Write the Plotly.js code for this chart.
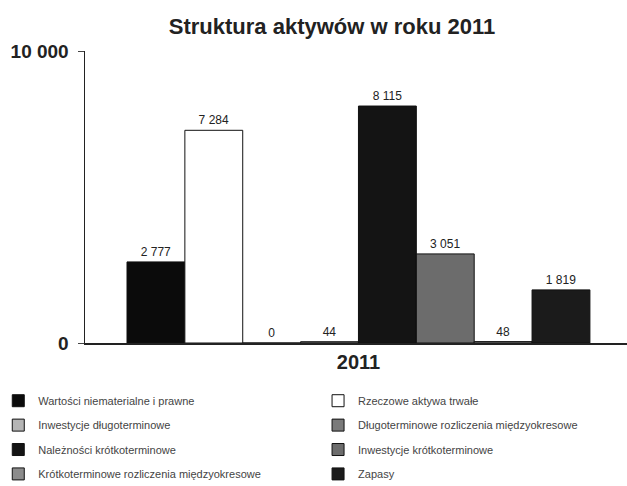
<!DOCTYPE html>
<html>
<head>
<meta charset="utf-8">
<script src="https://cdn.plot.ly/plotly-3.0.1.min.js"></script>
<style>html,body{margin:0;padding:0;background:#fff;}#chart{width:627px;height:486px;}</style>
</head>
<body>
<div id="chart"></div>
<script>
const categories = ['2011'];
const seriesNames = [
  'Wartości niematerialne i prawne',
  'Rzeczowe aktywa trwałe',
  'Inwestycje długoterminowe',
  'Długoterminowe rozliczenia międzyokresowe',
  'Należności krótkoterminowe',
  'Inwestycje krótkoterminowe',
  'Krótkoterminowe rozliczenia międzyokresowe',
  'Zapasy'
];
const seriesValues = [2777, 7284, 0, 44, 8115, 3051, 48, 1819];
const yTickValues = [0, 10000];
const yTickLabels = ['0', '10 000'];

const seriesColors = ['#0b0b0b', '#ffffff', '#b5b5b5', '#7a7a7a', '#141414', '#6c6c6c', '#8c8c8c', '#1b1b1b'];
const FONT = 'Liberation Sans, Arial, sans-serif';

const traces = seriesNames.map((name, i) => ({
  type: 'bar',
  name: name,
  x: categories,
  y: [seriesValues[i]],
  marker: { color: seriesColors[i], line: { color: '#111', width: 1 } },
  texttemplate: '%{y:,.0f}',
  textposition: 'outside',
  cliponaxis: false,
  textfont: { family: FONT, size: 12, color: '#222' },
  legendgroup: 'g' + i,
  legend: i % 2 === 0 ? 'legend' : 'legend2',
  hoverinfo: 'name+y'
}));

const legendCommon = {
  xanchor: 'left', yanchor: 'top',
  y: -0.148,
  tracegroupgap: 5.4,
  bgcolor: 'rgba(0,0,0,0)',
  font: { family: FONT, size: 11, color: '#444' },
  itemclick: false
};

const layout = {
  width: 627, height: 486,
  margin: { l: 85, r: 0, t: 51, b: 143, autoexpand: false },
  paper_bgcolor: '#fff', plot_bgcolor: '#fff',
  separators: ', ',
  barmode: 'group',
  bargap: 0.1536,
  bargroupgap: 0,
  title: {
    text: 'Struktura aktywów w roku 2011',
    font: { family: FONT, size: 22, color: '#222', weight: 'bold' },
    xref: 'container', x: 0.5295, xanchor: 'center',
    yref: 'container', y: 0.9465, yanchor: 'middle'
  },
  xaxis: {
    type: 'category',
    range: [-0.5, 0.491],
    showgrid: false,
    showline: true, linecolor: '#222', linewidth: 2,
    ticks: '',
    tickfont: { family: FONT, size: 20, color: '#222', weight: 'bold' },
    fixedrange: true
  },
  yaxis: {
    range: [0, 10000],
    tickvals: yTickValues,
    ticktext: yTickLabels,
    ticks: 'outside', ticklen: 6, tickcolor: '#444', tickwidth: 1,
    ticklabelstandoff: 5,
    showgrid: true, gridcolor: '#222', gridwidth: 2,
    zeroline: false,
    showline: true, linecolor: '#222', linewidth: 1.5,
    tickfont: { family: FONT, size: 19, color: '#222', weight: 'bold' },
    fixedrange: true
  },
  legend: Object.assign({}, legendCommon, { x: -0.16 }),
  legend2: Object.assign({}, legendCommon, { x: 0.43 }),
  showlegend: true
};

Plotly.newPlot('chart', traces, layout, { displayModeBar: false, staticPlot: true });
</script>
</body>
</html>
